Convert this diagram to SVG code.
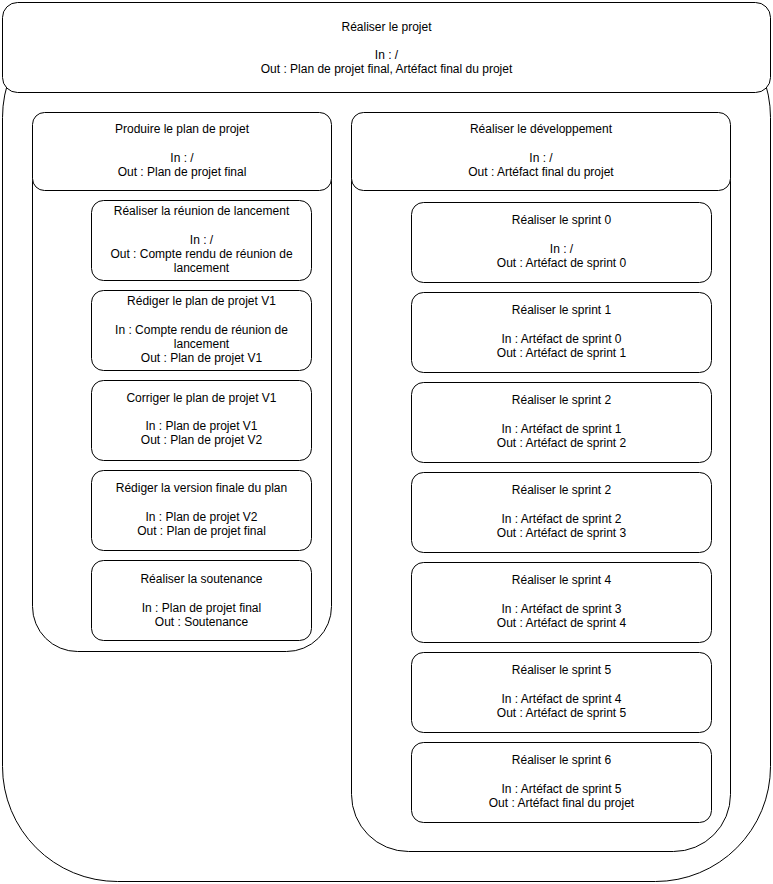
<svg xmlns="http://www.w3.org/2000/svg" width="773" height="884" viewBox="0 0 773 884">
<style>
  rect { fill: #ffffff; stroke: #000000; stroke-width: 1; }
  text { font-family: "Liberation Sans", Arial, Helvetica, sans-serif; font-size: 12px; fill: #000000; text-anchor: middle; }
</style>
<rect width="773" height="884" style="fill:#ffffff;stroke:none"/>
<g id="realiser-projet">
  <rect x="2.5" y="2.5" width="768" height="879" rx="115" ry="115"/>
  <rect x="2.5" y="2.5" width="768" height="90" rx="15" ry="15"/>
  <text x="386.5" y="31">Réaliser le projet</text>
  <text x="386.5" y="59">In : /</text>
  <text x="386.5" y="73">Out : Plan de projet final, Artéfact final du projet</text>
</g>
<g id="produire-plan">
  <rect x="32.5" y="112.5" width="299" height="539" rx="45" ry="45"/>
  <rect x="32.5" y="112.5" width="299" height="78" rx="12" ry="12"/>
  <text x="182" y="133">Produire le plan de projet</text>
  <text x="182" y="162">In : /</text>
  <text x="182" y="176">Out : Plan de projet final</text>
</g>
<g id="realiser-developpement">
  <rect x="351.5" y="112.5" width="379" height="739" rx="57" ry="57"/>
  <rect x="351.5" y="112.5" width="379" height="78" rx="12" ry="12"/>
  <text x="541" y="133">Réaliser le développement</text>
  <text x="541" y="162">In : /</text>
  <text x="541" y="176">Out : Artéfact final du projet</text>
</g>
<g id="reunion-lancement">
  <rect x="91.5" y="200.5" width="220" height="80" rx="12" ry="12"/>
  <text x="201.5" y="215">Réaliser la réunion de lancement</text>
  <text x="201.5" y="244">In : /</text>
  <text x="201.5" y="258">Out : Compte rendu de réunion de</text>
  <text x="201.5" y="272">lancement</text>
</g>
<g id="rediger-plan-v1">
  <rect x="91.5" y="290.5" width="220" height="80" rx="12" ry="12"/>
  <text x="201.5" y="305">Rédiger le plan de projet V1</text>
  <text x="201.5" y="334">In : Compte rendu de réunion de</text>
  <text x="201.5" y="348">lancement</text>
  <text x="201.5" y="362">Out : Plan de projet V1</text>
</g>
<g id="corriger-plan-v1">
  <rect x="91.5" y="380.5" width="220" height="80" rx="12" ry="12"/>
  <text x="201.5" y="402">Corriger le plan de projet V1</text>
  <text x="201.5" y="430">In : Plan de projet V1</text>
  <text x="201.5" y="444">Out : Plan de projet V2</text>
</g>
<g id="rediger-version-finale">
  <rect x="91.5" y="470.5" width="220" height="80" rx="12" ry="12"/>
  <text x="201.5" y="492">Rédiger la version finale du plan</text>
  <text x="201.5" y="521">In : Plan de projet V2</text>
  <text x="201.5" y="535">Out : Plan de projet final</text>
</g>
<g id="soutenance">
  <rect x="91.5" y="560.5" width="220" height="80" rx="12" ry="12"/>
  <text x="201.5" y="583">Réaliser la soutenance</text>
  <text x="201.5" y="612">In : Plan de projet final</text>
  <text x="201.5" y="626">Out : Soutenance</text>
</g>
<g id="sprint-0">
  <rect x="411.5" y="202.5" width="300" height="80" rx="12" ry="12"/>
  <text x="561.5" y="224">Réaliser le sprint 0</text>
  <text x="561.5" y="253">In : /</text>
  <text x="561.5" y="267">Out : Artéfact de sprint 0</text>
</g>
<g id="sprint-1">
  <rect x="411.5" y="292.5" width="300" height="80" rx="12" ry="12"/>
  <text x="561.5" y="314">Réaliser le sprint 1</text>
  <text x="561.5" y="343">In : Artéfact de sprint 0</text>
  <text x="561.5" y="357">Out : Artéfact de sprint 1</text>
</g>
<g id="sprint-2">
  <rect x="411.5" y="382.5" width="300" height="80" rx="12" ry="12"/>
  <text x="561.5" y="404">Réaliser le sprint 2</text>
  <text x="561.5" y="433">In : Artéfact de sprint 1</text>
  <text x="561.5" y="447">Out : Artéfact de sprint 2</text>
</g>
<g id="sprint-3">
  <rect x="411.5" y="472.5" width="300" height="80" rx="12" ry="12"/>
  <text x="561.5" y="494">Réaliser le sprint 2</text>
  <text x="561.5" y="523">In : Artéfact de sprint 2</text>
  <text x="561.5" y="537">Out : Artéfact de sprint 3</text>
</g>
<g id="sprint-4">
  <rect x="411.5" y="562.5" width="300" height="80" rx="12" ry="12"/>
  <text x="561.5" y="584">Réaliser le sprint 4</text>
  <text x="561.5" y="613">In : Artéfact de sprint 3</text>
  <text x="561.5" y="627">Out : Artéfact de sprint 4</text>
</g>
<g id="sprint-5">
  <rect x="411.5" y="652.5" width="300" height="80" rx="12" ry="12"/>
  <text x="561.5" y="674">Réaliser le sprint 5</text>
  <text x="561.5" y="703">In : Artéfact de sprint 4</text>
  <text x="561.5" y="717">Out : Artéfact de sprint 5</text>
</g>
<g id="sprint-6">
  <rect x="411.5" y="742.5" width="300" height="80" rx="12" ry="12"/>
  <text x="561.5" y="764">Réaliser le sprint 6</text>
  <text x="561.5" y="793">In : Artéfact de sprint 5</text>
  <text x="561.5" y="807">Out : Artéfact final du projet</text>
</g>
<g id="connectors"></g>
</svg>
